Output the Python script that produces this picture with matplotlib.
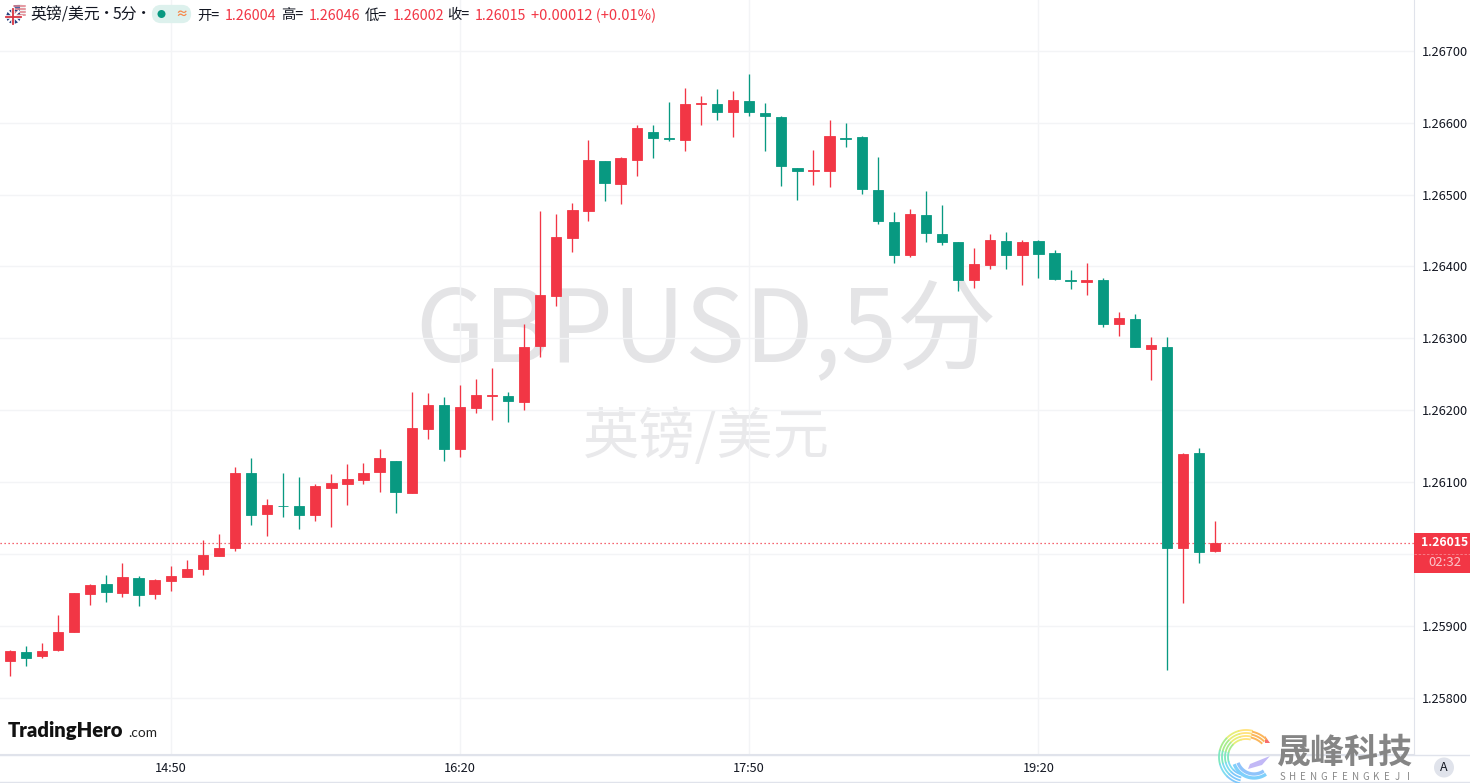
import numpy as np
import matplotlib
matplotlib.use('Agg')
import matplotlib.pyplot as plt
from matplotlib.patches import Rectangle, Circle, FancyBboxPatch, Polygon

plt.rcParams['font.family'] = ['Noto Sans CJK SC', 'DejaVu Sans']

#candles, red is up here, green is down
opens = [1.25851,1.25863,1.25858,1.25866,1.25891,1.25944,1.25958,1.25945,1.25966,1.25944,
         1.25962,1.25968,1.25979,1.25997,1.26008,1.26112,1.26055,1.26067,1.26067,1.26054,
         1.26092,1.26097,1.26103,1.26114,1.26129,1.26085,1.26174,1.26207,1.26146,1.26203,
         1.26220,1.26220,1.26211,1.26289,1.26359,1.26440,1.26477,1.26547,1.26515,1.26548,
         1.26587,1.26579,1.26576,1.26626,1.26626,1.26615,1.26630,1.26614,1.26608,1.26537,
         1.26533,1.26533,1.26579,1.26580,1.26506,1.26462,1.26416,1.26472,1.26445,1.26434,
         1.26381,1.26402,1.26435,1.26416,1.26435,1.26419,1.26381,1.26378,1.26381,1.26320,
         1.26327,1.26285,1.26288,1.26008,1.26140,1.26004]
highs = [1.25866,1.25872,1.25876,1.25915,1.25945,1.25958,1.25970,1.25987,1.25969,1.25965,
         1.25983,1.25991,1.26019,1.26028,1.26121,1.26133,1.26076,1.26112,1.26107,1.26097,
         1.26111,1.26125,1.26126,1.26146,1.26129,1.26225,1.26224,1.26218,1.26235,1.26243,
         1.26259,1.26225,1.26320,1.26477,1.26473,1.26488,1.26576,1.26547,1.26552,1.26597,
         1.26597,1.26629,1.26648,1.26637,1.26647,1.26644,1.26668,1.26627,1.26609,1.26537,
         1.26562,1.26604,1.26600,1.26582,1.26552,1.26476,1.26480,1.26505,1.26486,1.26434,
         1.26426,1.26445,1.26448,1.26437,1.26437,1.26423,1.26395,1.26405,1.26384,1.26337,
         1.26334,1.26302,1.26302,1.26140,1.26147,1.26046]
lows = [1.25830,1.25844,1.25855,1.25865,1.25891,1.25929,1.25933,1.25940,1.25927,1.25937,
        1.25948,1.25968,1.25970,1.25997,1.26004,1.26040,1.26025,1.26051,1.26034,1.26046,
        1.26037,1.26068,1.26097,1.26086,1.26057,1.26085,1.26160,1.26129,1.26135,1.26196,
        1.26186,1.26183,1.26200,1.26274,1.26345,1.26420,1.26463,1.26491,1.26487,1.26526,
        1.26551,1.26575,1.26561,1.26597,1.26604,1.26580,1.26609,1.26561,1.26512,1.26492,
        1.26513,1.26511,1.26566,1.26501,1.26459,1.26405,1.26413,1.26434,1.26430,1.26366,
        1.26370,1.26396,1.26396,1.26374,1.26384,1.26381,1.26369,1.26360,1.26316,1.26303,
        1.26288,1.26242,1.25838,1.25932,1.25987,1.26002]
closes = [1.25865,1.25855,1.25865,1.25891,1.25945,1.25957,1.25947,1.25968,1.25943,1.25964,
          1.25969,1.25979,1.25998,1.26008,1.26112,1.26054,1.26068,1.26066,1.26054,1.26094,
          1.26099,1.26104,1.26112,1.26133,1.26086,1.26175,1.26207,1.26146,1.26204,1.26221,
          1.26221,1.26213,1.26288,1.26360,1.26441,1.26478,1.26548,1.26516,1.26551,1.26593,
          1.26579,1.26578,1.26626,1.26627,1.26615,1.26632,1.26615,1.26609,1.26540,1.26533,
          1.26534,1.26582,1.26578,1.26508,1.26463,1.26416,1.26473,1.26447,1.26434,1.26381,
          1.26403,1.26437,1.26416,1.26434,1.26417,1.26382,1.26380,1.26381,1.26320,1.26328,
          1.26288,1.26291,1.26008,1.26139,1.26003,1.26015]

price_ticks = [1.258,1.259,1.260,1.261,1.262,1.263,1.264,1.265,1.266,1.267]
time_idx = [10,28,46,64]
time_labels = ['14:50','16:20','17:50','19:20']
last_price = 1.26015

RED = '#f23645'
GREEN = '#089981'
GRID = '#f3f4f6'
LINE = '#e0e3eb'
TXT = '#131722'
W, H = 1470, 783

fig = plt.figure(figsize=(14.7,7.83), dpi=100)
fig.patch.set_facecolor('white')

#watermark axes stays under the price pane
bg = fig.add_axes([0,0,1,1], zorder=-1)
bg.set_xlim(0,W)
bg.set_ylim(H,0)
bg.axis('off')
bg.text(706,333,'GBPUSD,5分',fontsize=72,color='#e4e4e6',ha='center',va='center')
bg.text(706,438,'英镑/美元',fontsize=40.5,color='#e9e9eb',ha='center',va='center')

#price pane, 1413 wide and 754 high
ax = fig.add_axes([0, 1-754/H, 1413.5/W, 754/H])
ax.patch.set_alpha(0)
ax.set_xlim(-0.62, 87.34)
ax.set_ylim(1.257214, 1.267708)
for s in ['top','left']:
    ax.spines[s].set_visible(False)
for s in ['right','bottom']:
    ax.spines[s].set_color(LINE)
ax.yaxis.tick_right()
ax.set_yticks(price_ticks)
#the 1.26000 label is hidden behind the last price tag
ax.set_yticklabels(['' if p == 1.260 else '%.5f' % p for p in price_ticks])
ax.set_xticks(time_idx)
ax.set_xticklabels(time_labels)
ax.tick_params(length=0, labelsize=9.2, labelcolor=TXT)
ax.tick_params(axis='y', pad=6)
ax.tick_params(axis='x', pad=6)
ax.grid(True, color=GRID, lw=1)
ax.set_axisbelow(True)

x = np.arange(len(opens))
o = np.array(opens)
c = np.array(closes)
colors = [RED if c[i] >= o[i] else GREEN for i in x]
ax.vlines(x, lows, highs, colors=colors, lw=0.95, zorder=3)
ax.bar(x, np.abs(c-o), bottom=np.minimum(o,c), width=0.64, color=colors, edgecolor=colors, lw=0.6, zorder=4)

ax.axhline(last_price, color=RED, lw=0.9, ls=(0,(1,2.2)), zorder=2)

#everything else goes on an overlay in pixel coords
ov = fig.add_axes([0,0,1,1], zorder=10)
ov.set_xlim(0,W)
ov.set_ylim(H,0)
ov.axis('off')

ov.plot([0,W],[754.5,754.5], color=LINE, lw=1)
ov.plot([0,W],[782.3,782.3], color=LINE, lw=1)

#last price tag
ov.add_patch(Rectangle((1414,533),56,40,color=RED,lw=0))
ov.plot([1414,1470],[553.5,553.5], color='#f8858e', lw=0.6, ls=(0,(3,2)))
ov.text(1444.5,543,'1.26015',color='white',fontsize=8.8,fontweight='bold',ha='center',va='center')
ov.text(1445,563,'02:32',color='#fbc4c9',fontsize=9.5,ha='center',va='center')

#flags
ov.add_patch(Circle((19.5,10.5),6.5,color='#f2f2f2',lw=0))
for yy in [5.5,8.5,11.5,14.5]:
    ov.plot([14,25.5],[yy,yy],color='#e0808a',lw=1.1)
ov.add_patch(Rectangle((14,4.5),6,6,color='#4a6aa5',lw=0))
ov.add_patch(Circle((13.5,16.5),8.2,color='white',lw=0))
ov.add_patch(Circle((13.5,16.5),7.3,color='#27407f',lw=0))
ov.plot([8.5,18.5],[11.5,21.5],color='white',lw=1.5)
ov.plot([8.5,18.5],[21.5,11.5],color='white',lw=1.5)
ov.plot([6.3,20.7],[16.5,16.5],color='white',lw=2.6)
ov.plot([13.5,13.5],[9.3,23.7],color='white',lw=2.6)
ov.plot([6.3,20.7],[16.5,16.5],color='#d8323f',lw=1.3)
ov.plot([13.5,13.5],[9.3,23.7],color='#d8323f',lw=1.3)

#legend line
ov.text(30.5,15.5,'英镑/美元',color=TXT,fontsize=11.4,va='center')
ov.text(106.5,14,'·',color=TXT,fontsize=11,va='center',ha='center')
ov.text(113,15.5,'5分',color=TXT,fontsize=11.4,va='center')
ov.text(144,14,'·',color=TXT,fontsize=11,va='center',ha='center')
ov.add_patch(FancyBboxPatch((155,8),33,12,boxstyle='round,pad=0,rounding_size=6',fc='#ddf1ed',ec='#ddf1ed',lw=4.5))
ov.add_patch(Circle((161.5,14),4,color=GREEN,lw=0))
ov.text(181.5,14,'≈',color='#f6894b',fontsize=9,ha='center',va='center',fontweight='bold')
for lab,xl,val,xv in [('开=',197,'1.26004',225),('高=',281,'1.26046',309),('低=',365,'1.26002',393),('收=',447,'1.26015',475)]:
    ov.text(xl,15.5,lab,color=TXT,fontsize=10.3,va='center')
    ov.text(xv,15.5,val,color=RED,fontsize=10.3,va='center')
ov.text(531,15.5,'+0.00012 (+0.01%)',color=RED,fontsize=10.5,va='center')

#brand bottom left
ov.text(8,731,'TradingHero',color='#111111',fontsize=14.6,fontweight='heavy',family='Lato',va='center')
ov.text(128.5,733,'.com',color='#222222',fontsize=9.8,family='Lato',va='center')

#A button
ov.add_patch(Circle((1444,767.5),10,color=LINE,lw=0))
ov.text(1444,767.5,'A',color=TXT,fontsize=9,ha='center',va='center')

#swirl logo, rainbow bands down the left side then the blue fan at the bottom
band = ['#ffe27a','#e8ee78','#a8ec8c','#7fe8c0','#7fdcf0','#7fc8fb']
for r in [27,24,21,18]:
    for j,col in enumerate(band):
        t = np.radians(np.linspace(75+j*30, 75+(j+1)*30+2, 12))
        ov.plot(1246+r*np.cos(t), 757-r*np.sin(t), color=col, lw=1.3, solid_capstyle='butt')
for r in [29,26,23]:
    t = np.radians(np.linspace(45,78,10))
    ov.plot(1246+r*np.cos(t), 760-r*np.sin(t), color='#fbb65a', lw=1.4, solid_capstyle='butt')
ov.add_patch(Polygon([(1265,736),(1270,743),(1265,743)],color='#f76d6d',lw=0))
for r,col,lw in [(21,'#7fd0fb',2.4),(17,'#8fc4fb',2.4)]:
    t = np.radians(np.linspace(200,305,20))
    ov.plot(1254+r*np.cos(t), 757-r*np.sin(t), color=col, lw=lw, solid_capstyle='butt')
ov.add_patch(Polygon([(1250,764),(1270,756),(1262,765),(1248,769)],color='#c2b8f6',lw=0))

ov.text(1345,752,'晟峰科技',color='#858585',fontsize=24.5,fontweight='bold',ha='center',va='center')
for xl,ch in zip(np.linspace(1282,1408,13),'SHENGFENGKEJI'):
    ov.text(xl,777,ch,color='#8a8a8a',fontsize=7,ha='center',va='center')

fig.savefig('out.png', dpi=100)
